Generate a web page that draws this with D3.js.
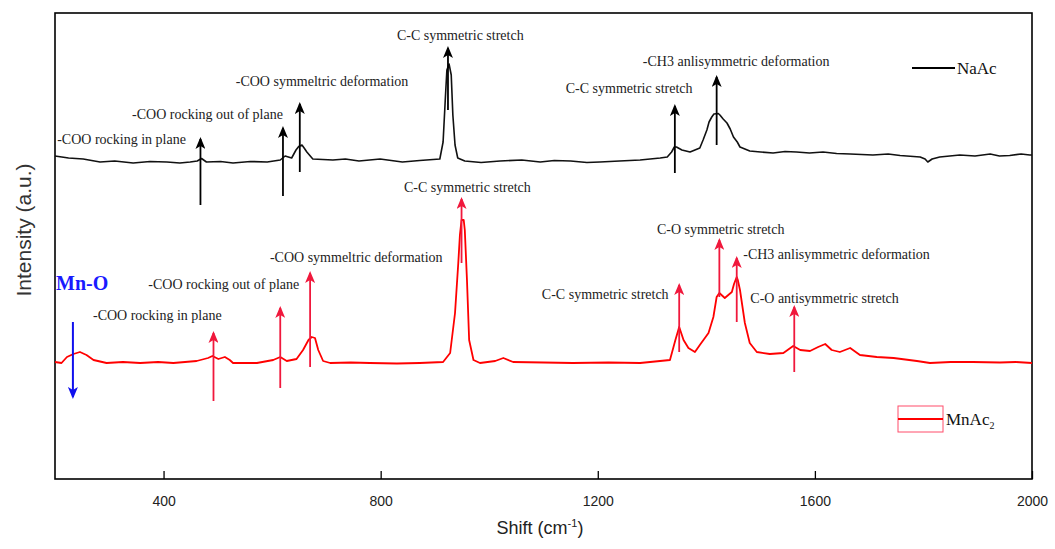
<!DOCTYPE html>
<html>
<head>
<meta charset="utf-8">
<script src="https://cdn.jsdelivr.net/npm/d3@7"></script>
<style>
body { margin: 0; background: #fff; }
.tick text { font-family: "Liberation Sans", Arial, sans-serif; font-size: 14px; fill: #222; }
.tick line { stroke: #000; stroke-width: 1.3; }
.ann { font-family: "Liberation Serif", "Times New Roman", serif; font-size: 14px; fill: #222; }
</style>
</head>
<body>
<div class="chart"></div>
<script>
// Raman shift (cm-1) and intensity (a.u., stacked)
var naacShift = [200, 225, 252, 283, 310, 344, 375, 406, 430, 449, 462, 470, 479, 505, 528, 560, 591, 615, 624, 636, 644, 649, 655, 659, 664, 675,
    712, 735, 760, 799, 840, 872, 909, 915, 919, 922, 926, 930, 933, 937, 942, 955, 985, 1020, 1060, 1094, 1120, 1150, 1180, 1204, 1240, 1278,
    1315, 1328, 1336, 1341, 1345, 1355, 1370, 1388, 1394, 1401, 1405, 1410, 1414, 1422, 1425, 1431, 1438, 1444, 1450,
    1457, 1462, 1480, 1500, 1523, 1545, 1566, 1590, 1615, 1640, 1665, 1707, 1735, 1757, 1794, 1803, 1808, 1816, 1830, 1867, 1895, 1923, 1940, 1959, 1980, 1996, 2000];
var naacInt = [323, 321, 320, 317, 318, 316, 317.5, 317, 316, 317, 318, 320.5, 317, 317.5, 316, 317.5, 317, 319, 323, 321, 329, 332.5, 334, 331, 327, 320,
    319, 320, 318, 320, 317, 318.5, 320, 337, 379, 409, 415, 404, 364, 334, 321, 318, 316.5, 318, 319, 317, 318.5, 318, 316.5, 317, 318, 319,
    321, 322, 327, 332, 332, 329, 327, 331, 339, 349, 357, 362, 365, 365.5, 364, 360, 356, 350, 342,
    337, 332, 328, 327, 326, 327.5, 327, 326, 327, 325.5, 325, 324, 325, 323.5, 322, 320, 317, 320, 322, 324, 323, 325, 323, 323.5, 325, 324, 324];

var mnacShift = [200, 212, 222, 234, 246, 258, 271, 295, 325, 357, 390, 418, 461, 482, 490, 501, 513, 522, 528, 572, 602, 615,
    627, 645, 657, 667, 673, 679, 685, 694, 707, 745, 780, 830, 872, 915, 928, 937, 943, 946, 949, 953, 955, 959, 963, 971, 983,
    1011, 1026, 1044, 1100, 1154, 1220, 1278, 1333, 1343, 1350, 1358, 1367, 1379, 1388, 1404, 1413, 1419, 1424, 1434, 1447, 1451,
    1456, 1458, 1462, 1471, 1480, 1493, 1517, 1542, 1560, 1573, 1591, 1606, 1619, 1631, 1646, 1665, 1683, 1714, 1745,
    1788, 1812, 1850, 1891, 1941, 1970, 2000];
var mnacInt = [117, 116, 122, 125, 127, 124, 119, 116, 117, 116, 117, 116, 118, 121, 123, 120, 122, 119, 116, 116, 119, 122,
    118, 120, 129, 139, 142, 141, 129, 118, 116, 116.5, 116, 115.5, 116, 117, 126, 166, 216, 244, 259, 259, 249, 199, 139, 119, 116,
    118, 121, 117, 116.5, 116, 116.5, 116, 119, 139, 152, 139, 131, 127, 134, 146, 162, 182, 186, 181, 187, 195,
    202, 199, 189, 156, 136, 127, 125, 126, 133, 129, 128, 132, 135, 129, 127, 131, 124, 122, 121,
    118, 116, 117, 117, 116.5, 117, 116];

var xTicks = [400, 800, 1200, 1600, 2000];

// band assignments: shift, arrow from / to (a.u.), label anchor (shift, a.u.)
var naacBands = ["-COO rocking in plane", "-COO rocking out of plane", "-COO symmeltric deformation",
    "C-C symmetric stretch", "C-C symmetric stretch", "-CH3 anlisymmetric deformation"];
var naacBandX = [468, 620, 651, 924, 1342, 1419];
var naacArrowFrom = [274, 283, 307, 369, 306, 334];
var naacArrowTo = [340, 351, 375, 431, 373, 402];
var naacLabelX = [204, 342, 533, 830, 1141, 1283];
var naacLabelY = [335, 360, 393, 439, 386, 413];

var mnacBands = ["-COO rocking in plane", "-COO rocking out of plane", "-COO symmeltric deformation",
    "C-C symmetric stretch", "C-C symmetric stretch", "C-O symmetric stretch",
    "-CH3 anlisymmetric deformation", "C-O antisymmetric stretch"];
var mnacBandX = [492, 615, 670, 949, 1350, 1424, 1456, 1562];
var mnacArrowFrom = [78, 91, 112, 216, 127, 182, 157, 107];
var mnacArrowTo = [146, 171, 206, 280, 194, 239, 221, 172];
var mnacLabelX = [270, 372, 596, 843, 1097, 1309, 1468, 1481];
var mnacLabelY = [159, 190, 217, 287, 180, 245, 220, 176];

var mnoX = 233, mnoFrom = 157, mnoTo = 82;

var margin = {top: 13, right: 23, bottom: 70, left: 55},
    width = 1055 - margin.left - margin.right,
    height = 549 - margin.top - margin.bottom;

var svg = d3.select(".chart").append("svg")
    .attr("width", 1055)
    .attr("height", 549)
    .style("font-family", "Liberation Serif, serif");

var defs = svg.append("defs");
function head(id, color) {
    // arrow head pointing along +x, tip at the line end
    defs.append("marker")
        .attr("id", id)
        .attr("viewBox", "0 0 12 10")
        .attr("refX", 10).attr("refY", 5)
        .attr("markerWidth", 12).attr("markerHeight", 10)
        .attr("markerUnits", "userSpaceOnUse")
        .attr("orient", "auto")
        .append("path")
        .attr("d", "M0,0 L12,5 L0,10 L3,5 Z")
        .attr("fill", color);
}
head("hk", "#000");
head("hr", "#f0183c");
head("hb", "#1010ee");

var g = svg.append("g")
    .attr("transform", "translate(" + margin.left + "," + margin.top + ")");

var x = d3.scaleLinear().domain([200, 2000]).range([0, width]);
var y = d3.scaleLinear().domain([0, height]).range([height, 0]);

var line = d3.line()
    .x(function(d){ return x(d[0]); })
    .y(function(d){ return y(d[1]); });

var xAxis = d3.axisBottom(x)
    .tickValues(xTicks)
    .tickFormat(d3.format("d"))
    .tickSizeInner(-8)
    .tickSizeOuter(0)
    .tickPadding(17);

g.append("g")
    .attr("class", "x axis")
    .attr("transform", "translate(0," + height + ")")
    .call(xAxis)
    .select(".domain").remove();

g.append("rect")
    .attr("width", width)
    .attr("height", height)
    .attr("fill", "none")
    .attr("stroke", "#000")
    .attr("stroke-width", 1.6);

g.append("path")
    .datum(d3.zip(naacShift, naacInt))
    .attr("d", line)
    .attr("fill", "none")
    .attr("stroke", "#111")
    .attr("stroke-width", 1.6)
    .attr("stroke-linejoin", "round");

g.append("path")
    .datum(d3.zip(mnacShift, mnacInt))
    .attr("d", line)
    .attr("fill", "none")
    .attr("stroke", "#ff0000")
    .attr("stroke-width", 1.8)
    .attr("stroke-linejoin", "round");

function arrows(xs, from, to, color, mk) {
    g.selectAll(null)
        .data(xs)
        .enter().append("line")
        .attr("x1", function(d){ return x(d); })
        .attr("x2", function(d){ return x(d); })
        .attr("y1", function(d, i){ return y(from[i]); })
        .attr("y2", function(d, i){ return y(to[i]); })
        .attr("stroke", color)
        .attr("stroke-width", 1.8)
        .attr("marker-end", "url(#" + mk + ")");
}
function labels(txt, lx, ly) {
    g.selectAll(null)
        .data(txt)
        .enter().append("text")
        .attr("class", "ann")
        .attr("x", function(d, i){ return x(lx[i]); })
        .attr("y", function(d, i){ return y(ly[i]); })
        .text(function(d){ return d; });
}

arrows(naacBandX, naacArrowFrom, naacArrowTo, "#000", "hk");
labels(naacBands, naacLabelX, naacLabelY);
arrows(mnacBandX, mnacArrowFrom, mnacArrowTo, "#f0183c", "hr");
labels(mnacBands, mnacLabelX, mnacLabelY);

// Mn-O
g.append("line")
    .attr("x1", x(mnoX)).attr("x2", x(mnoX))
    .attr("y1", y(mnoFrom)).attr("y2", y(mnoTo))
    .attr("stroke", "#1010ee")
    .attr("stroke-width", 2)
    .attr("marker-end", "url(#hb)");

svg.append("text")
    .attr("x", 56).attr("y", 290)
    .attr("fill", "#1a1aff")
    .style("font-size", "20px")
    .style("font-weight", "bold")
    .text("Mn-O");

// legends
svg.append("line")
    .attr("x1", 912).attr("x2", 955)
    .attr("y1", 68).attr("y2", 68)
    .attr("stroke", "#000").attr("stroke-width", 1.8);
svg.append("text")
    .attr("x", 957).attr("y", 74)
    .style("font-size", "17px")
    .attr("fill", "#111")
    .text("NaAc");

svg.append("rect")
    .attr("x", 898).attr("y", 406)
    .attr("width", 45).attr("height", 26)
    .attr("fill", "none")
    .attr("stroke", "#ff4d6a").attr("stroke-width", 1);
svg.append("line")
    .attr("x1", 898).attr("x2", 943)
    .attr("y1", 419).attr("y2", 419)
    .attr("stroke", "#ff0000").attr("stroke-width", 2);
var mt = svg.append("text")
    .attr("x", 946).attr("y", 425)
    .style("font-size", "17px")
    .attr("fill", "#111");
mt.append("tspan").text("MnAc");
mt.append("tspan").attr("dy", 4).style("font-size", "10px").text("2");

// axis titles
var xt = svg.append("text")
    .attr("x", 540).attr("y", 534)
    .attr("text-anchor", "middle")
    .style("font-family", "Liberation Sans, Arial, sans-serif")
    .style("font-size", "18px")
    .attr("fill", "#222");
xt.append("tspan").text("Shift (cm");
xt.append("tspan").attr("dy", -7).style("font-size", "11px").text("-1");
xt.append("tspan").attr("dy", 7).text(")");

svg.append("text")
    .attr("transform", "translate(31,230) rotate(-90)")
    .attr("text-anchor", "middle")
    .style("font-family", "Liberation Sans, Arial, sans-serif")
    .style("font-size", "21px")
    .attr("fill", "#333")
    .text("Intensity (a.u.)");
</script>
</body>
</html>
